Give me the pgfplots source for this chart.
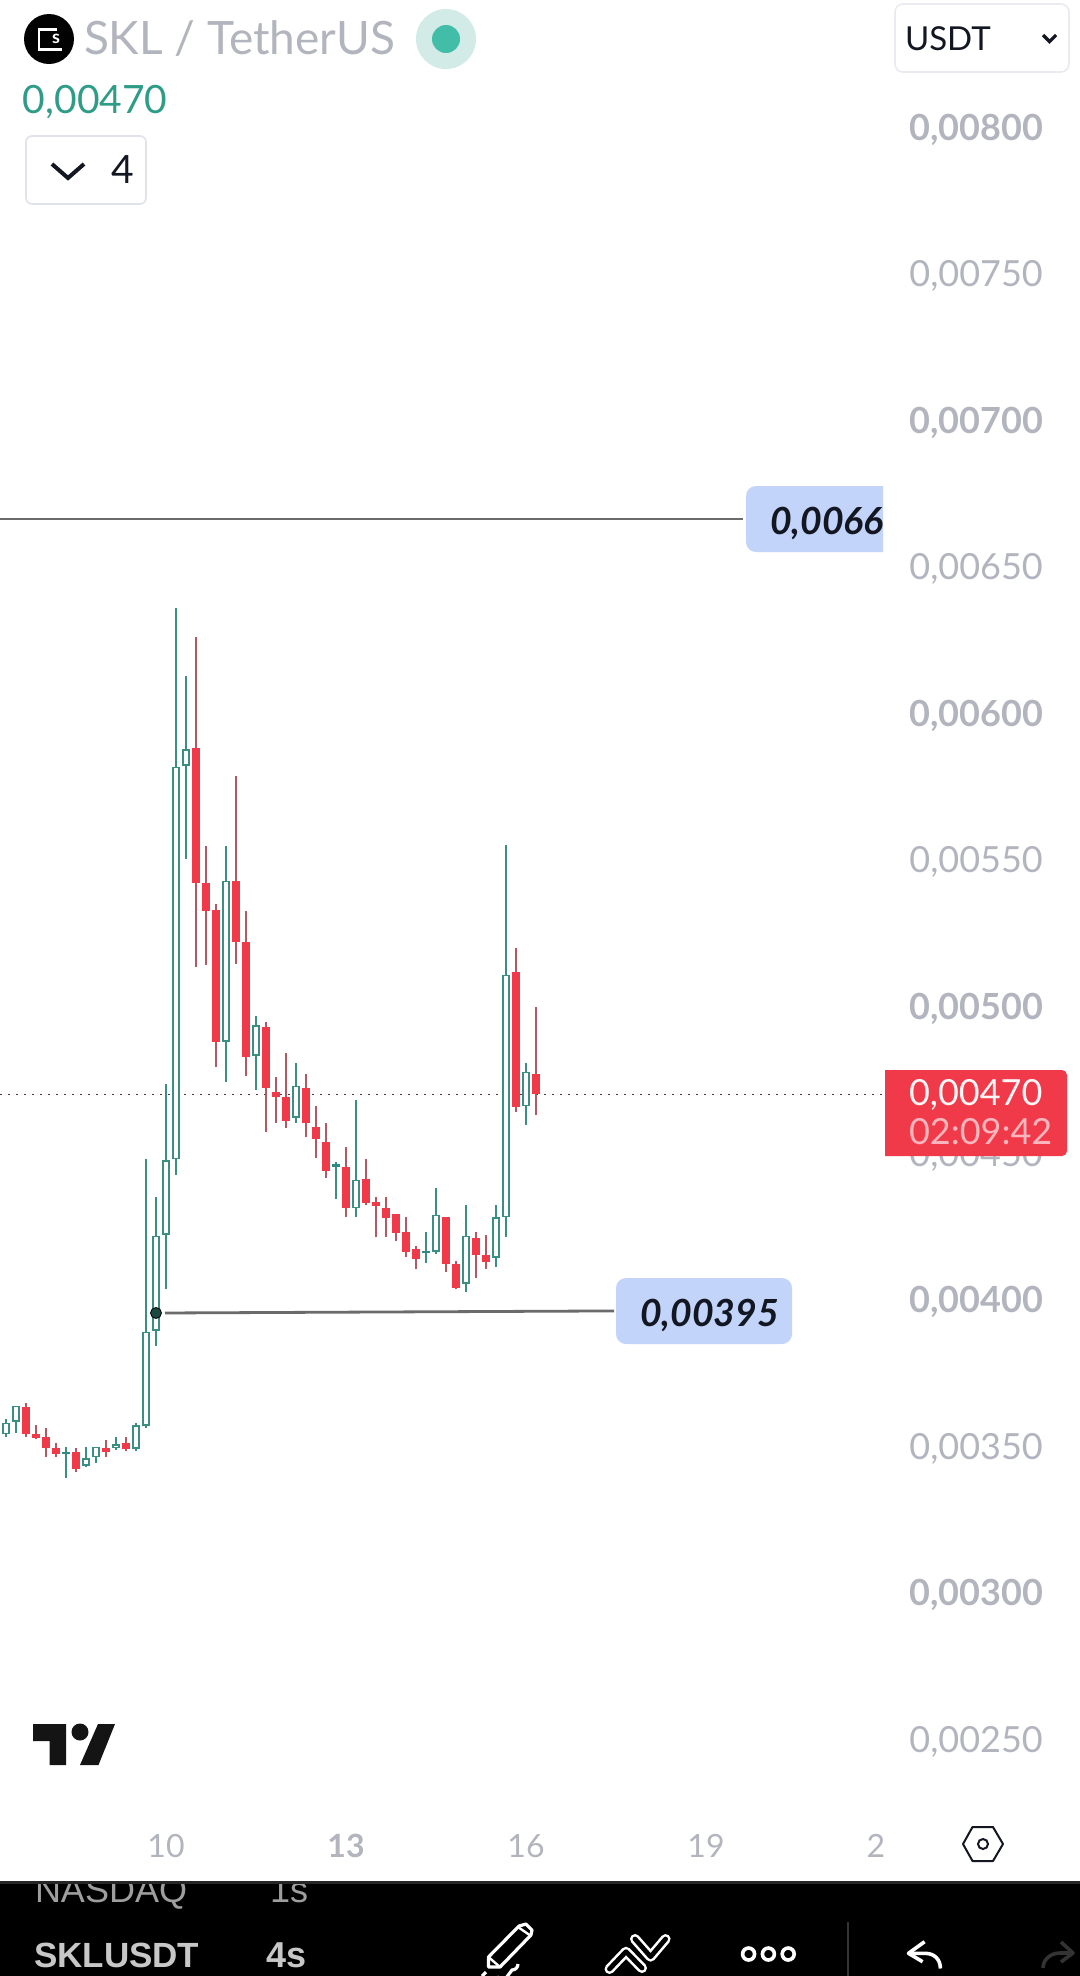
\documentclass[border=0pt]{standalone}
\usepackage{fontspec}
\usepackage{pgfplots}
\usepackage{pgfplotstable}
\pgfplotsset{compat=1.18}
\setmainfont{Lato}
\newfontfamily\arialf{Liberation Sans}
\definecolor{cgreen}{HTML}{3B8E82}
\definecolor{cred}{HTML}{F03A4A}
\definecolor{cwickr}{HTML}{B05A66}
\definecolor{cgrey}{HTML}{B2B5BE}
\definecolor{cblue}{HTML}{C3D4FB}
\definecolor{cink}{HTML}{131722}
\definecolor{cline}{HTML}{6B6B6B}
\definecolor{cpale}{HTML}{D2EBE7}
\definecolor{cteal}{HTML}{42BDA8}
\definecolor{cprice}{HTML}{2E9C87}
\definecolor{cbox}{HTML}{E0E3EB}
\definecolor{cpink}{HTML}{FBB5BC}
% prices in units of 0.00001 USDT; i = candle number (4h candles)
\pgfplotstableread{
i bot top low high
0 354.0 358.0 353.2 359.1
1 358.3 363.8 354.3 363.8
8 343.3 345.8 343.0 349.8
9 346.1 349.8 344.3 349.8
11 349.2 350.7 348.6 353.0
13 349.0 357.2 348.4 358.0
14 357.0 389.0 356.3 447.8
15 389.3 421.8 384.3 434.9
16 422.0 447.6 403.5 473.5
17 447.8 581.9 442.5 635.9
18 582.1 587.9 550.2 612.9
22 488.0 543.0 474.2 554.9
25 483.1 493.7 471.5 496.9
29 462.1 473.0 460.4 480.8
35 431.1 440.9 428.3 468.1
43 416.2 428.9 415.4 437.9
46 405.3 421.8 402.4 432.2
49 414.3 428.0 411.2 432.2
50 428.0 510.9 421.2 555.0
52 466.0 477.8 459.4 480.8
}\greentab
\pgfplotstableread{
i bot top low high
6 347.3 348.1 339.2 349.8
33 445.1 446.1 434.2 447.0
42 416.0 416.4 412.3 422.9
}\solidtab
\pgfplotstableread{
i bot top low high
2 354.0 363.2 353.2 364.8
3 352.6 354.0 352.3 357.2
4 349.2 353.0 346.4 356.0
5 347.2 349.2 346.4 350.9
7 342.0 348.1 341.3 349.2
10 348.1 349.2 346.4 352.1
12 349.0 350.9 348.4 353.0
19 542.0 588.1 513.4 626.0
20 532.7 542.0 514.2 554.9
21 488.0 533.0 479.3 534.9
23 521.9 543.0 514.4 578.8
24 482.9 521.9 476.4 532.7
26 472.1 492.9 457.3 494.8
27 469.0 470.9 460.4 476.1
28 461.0 469.0 458.4 484.0
30 460.1 472.1 455.3 476.8
31 454.9 459.0 448.2 466.0
32 444.0 453.9 441.4 460.1
34 431.1 445.1 428.3 451.9
36 433.0 441.0 432.2 447.8
37 432.0 433.2 421.2 434.9
38 427.9 431.1 421.2 434.9
39 422.8 429.1 420.1 429.1
40 416.1 422.9 414.4 428.0
41 413.9 417.1 410.3 418.3
44 412.0 428.0 409.3 428.0
45 404.0 412.1 403.5 413.2
47 415.1 420.9 407.2 422.9
48 412.9 415.1 410.3 422.0
51 465.8 511.9 464.1 519.8
53 470.0 476.8 462.9 499.9
}\redtab
\pgfplotsset{
  bars/.style 2 args={draw=none, forget plot,
    error bars/.cd, y dir=plus, y explicit, error mark=none,
    error bar style={draw=#1, solid, line width=#2}},
}
\tikzset{px/.style={x=0.5pt,y=-0.5pt},
  txt/.style={anchor=base west,inner sep=0pt,outer sep=0pt}}
\begin{document}
\begin{tikzpicture}
\path[use as bounding box] (0pt,0pt) rectangle (540pt,-988pt);
\begin{scope}[px]
  \fill[black] (0,1881) rectangle (1080,1976);
  \node[txt,text=black!38] at (35,1902) {\arialf\fontsize{18}{20}\selectfont NASDAQ};
  \node[txt,text=black!38] at (270,1902) {\arialf\fontsize{18}{20}\selectfont 1s};
  \fill[white] (0,0) rectangle (1080,1881);
  \fill[black!85] (0,1881) rectangle (1080,1884);
\end{scope}
\begin{axis}[
  at={(0pt,-940.5pt)}, anchor=south west,
  scale only axis, width=442.5pt, height=940.5pt,
  xmin=-0.6, xmax=87.9, ymin=201.54, ymax=843.5,
  axis line style={draw=none}, major tick length=0pt,
  xtick={16,34,52,70,87},
  xticklabels={10,\textbf{13},16,19,2},
  xticklabel style={anchor=base, inner sep=0pt, yshift=12pt, text=cgrey, font=\fontsize{16}{18}\selectfont},
  ytick={250,300,350,400,450,500,550,600,650,700,750,800},
  yticklabels={{0,00250},{\textbf{0,00300}},{0,00350},{\textbf{0,00400}},{0,00450},{\textbf{0,00500}},{0,00550},{\textbf{0,00600}},{0,00650},{\textbf{0,00700}},{0,00750},{\textbf{0,00800}}},
  yticklabel pos=right,
  yticklabel style={anchor=west, inner sep=0pt, xshift=12pt, yshift=-1.2pt, text=cgrey, font=\fontsize{18}{20}\selectfont},
]
% last price line
\addplot[forget plot, color=black!50!cwickr, line width=0.7pt, dash pattern=on 1pt off 3pt] coordinates {(-0.6,470) (87.9,470)};
% trend lines
\addplot[forget plot, color=cline, line width=1.4pt] coordinates {(-0.6,666.4) (73.7,666.4)};
\addplot[forget plot, color=cline, line width=1.4pt] coordinates {(15.9,395.4) (60.8,396.1)};
% wicks
\addplot[bars={cgreen}{0.75pt}] table[x=i,y=low,y error plus expr=\thisrow{high}-\thisrow{low}] {\greentab};
\addplot[bars={cgreen}{0.75pt}] table[x=i,y=low,y error plus expr=\thisrow{high}-\thisrow{low}] {\solidtab};
\addplot[bars={cwickr}{0.75pt}] table[x=i,y=low,y error plus expr=\thisrow{high}-\thisrow{low}] {\redtab};
% bodies
\addplot[bars={cred}{4pt}] table[x=i,y=bot,y error plus expr=\thisrow{top}-\thisrow{bot}] {\redtab};
\addplot[bars={cgreen}{3.8pt}] table[x=i,y=bot,y error plus expr=\thisrow{top}-\thisrow{bot}] {\greentab};
\addplot[bars={white}{2.1pt}] table[x=i,y expr=\thisrow{bot}+0.55,y error plus expr=\thisrow{top}-\thisrow{bot}-1.1] {\greentab};
\addplot[bars={cgreen!80!teal}{3.8pt}] table[x=i,y=bot,y error plus expr=\thisrow{top}-\thisrow{bot}] {\solidtab};
% anchor point of the trend line
\addplot[forget plot, only marks, mark=*, mark size=2.75pt, mark options={draw=none, fill=black!50!cgreen}] coordinates {(15,395.4)};
\end{axis}
\begin{scope}[px]
  % header
  \fill[black!92!cink] (49,39) circle[radius=25];
  \draw[white,line width=1.1pt] (57,29.5) -- (39,29.5) -- (39,49.5) -- (62,49.5);
  \node[inner sep=0pt,text=white] at (56,39) {\fontsize{9}{10}\selectfont\bfseries s};
  \node[txt,text=cgrey] at (84,54) {\fontsize{23}{26}\selectfont SKL / TetherUS};
  \fill[cpale] (446,39) circle[radius=30];
  \fill[cteal] (446,39) circle[radius=14];
  \node[txt,text=cprice] at (23,113) {\fontsize{19.5}{22}\selectfont 0,00470};
  \draw[cbox,line width=0.8pt,rounded corners=3pt] (26,136) rectangle (146,204);
  \draw[cink,line width=2pt] (52,164) -- (68,178) -- (84,164);
  \node[txt,text=cink] at (111,183) {\fontsize{19.5}{22}\selectfont 4};
  % currency box
  \draw[cbox!70!white,line width=0.8pt,rounded corners=4pt] (895,4) rectangle (1069,72);
  \node[txt,text=cink] at (905,50) {\fontsize{16.5}{20}\selectfont USDT};
  \draw[cink,line width=1.6pt] (1043,35) -- (1049.5,41.5) -- (1056,35);
  % blue labels
  \fill[cblue] (883,486) {[rounded corners=5pt] -- (746,486) -- (746,552)} -- (883,552) -- cycle;
  \begin{scope}
    \clip (746,486) rectangle (883,552);
    \node[txt,text=cink] at (770,534) {\fontsize{18.7}{20}\selectfont\bfseries\itshape 0,0066};
  \end{scope}
  \fill[cblue,rounded corners=5pt] (616,1278) rectangle (792,1344);
  \node[txt,text=cink] at (640,1326) {\fontsize{18.7}{20}\selectfont\bfseries\itshape 0,00395};
  % last price tag
  \fill[cred] (885,1070) {[rounded corners=2.5pt] -- (1067,1070) -- (1067,1156)} -- (885,1156) -- cycle;
  \node[txt,text=white!95!cred] at (909,1105) {\fontsize{18}{20}\selectfont 0,00470};
  \node[txt,text=cpink] at (909,1144) {\fontsize{18}{20}\selectfont 02:09:42};
  % TradingView logo
  \fill[black!92] (33,1724) -- (66,1724) -- (66,1765) -- (49.5,1765) -- (49.5,1741) -- (33,1741) -- cycle;
  \fill[black!92] (80,1732) circle[radius=8.5];
  \fill[black!92] (98,1724) -- (115,1724) -- (98.5,1765) -- (80,1765) -- cycle;
  % settings hexagon
  \draw[cink,line width=1pt,line join=round] (963,1844) -- (972.5,1827) -- (993,1827) -- (1003,1844) -- (993,1861) -- (972.5,1861) -- cycle;
  \draw[cink,line width=1pt] (983,1844) circle[radius=5];
  % bottom toolbar
  \node[txt,text=black!22] at (34,1967) {\arialf\fontsize{17.5}{20}\selectfont\bfseries SKLUSDT};
  \node[txt,text=black!22] at (266,1967) {\arialf\fontsize{18}{20}\selectfont\bfseries 4s};
  \draw[white,line width=1.6pt,line join=round] (488.5,1957) -- (519,1926) -- (526,1924) -- (532,1930) -- (531,1935) -- (500,1967) -- (488.5,1967) -- cycle;
  \draw[white,line width=1.2pt] (488.5,1957) -- (500,1967) (518,1927) -- (531,1936);
  \draw[white,line width=1.6pt] (482,1976) -- (486,1972) (497,1976) arc[start angle=180,end angle=90,radius=6] -- (512,1970) arc[start angle=90,end angle=0,radius=6];
  \draw[white,line width=5pt,line cap=round,line join=round] (609.5,1969) -- (626,1951.7) -- (642,1968) (635,1939) -- (650.6,1956.7) -- (665.6,1939);
  \draw[black,line width=2.4pt,line cap=round,line join=round] (609.5,1969) -- (626,1951.7) -- (642,1968) (635,1939) -- (650.6,1956.7) -- (665.6,1939);
  \draw[white,line width=1.8pt] (748.6,1954) circle[radius=6] (768.4,1954) circle[radius=6] (788.2,1954) circle[radius=6];
  \draw[black!80,line width=1pt] (847.5,1922) -- (847.5,1976);
  \draw[white,line width=1.8pt,line join=round] (924.6,1941.7) -- (908.5,1953.3) -- (922.6,1961.7);
  \draw[white,line width=1.8pt] (908.5,1953.3) -- (925,1953.3) .. controls (935,1953.3) and (940.4,1960) .. (940.4,1968.5);
  \draw[black!80,line width=1.8pt,line join=round] (1061,1942) -- (1073,1953) -- (1061,1962);
  \draw[black!80,line width=1.8pt] (1073,1953) -- (1060,1953) .. controls (1050,1953) and (1043,1960) .. (1043,1968);
\end{scope}
\end{tikzpicture}
\end{document}
